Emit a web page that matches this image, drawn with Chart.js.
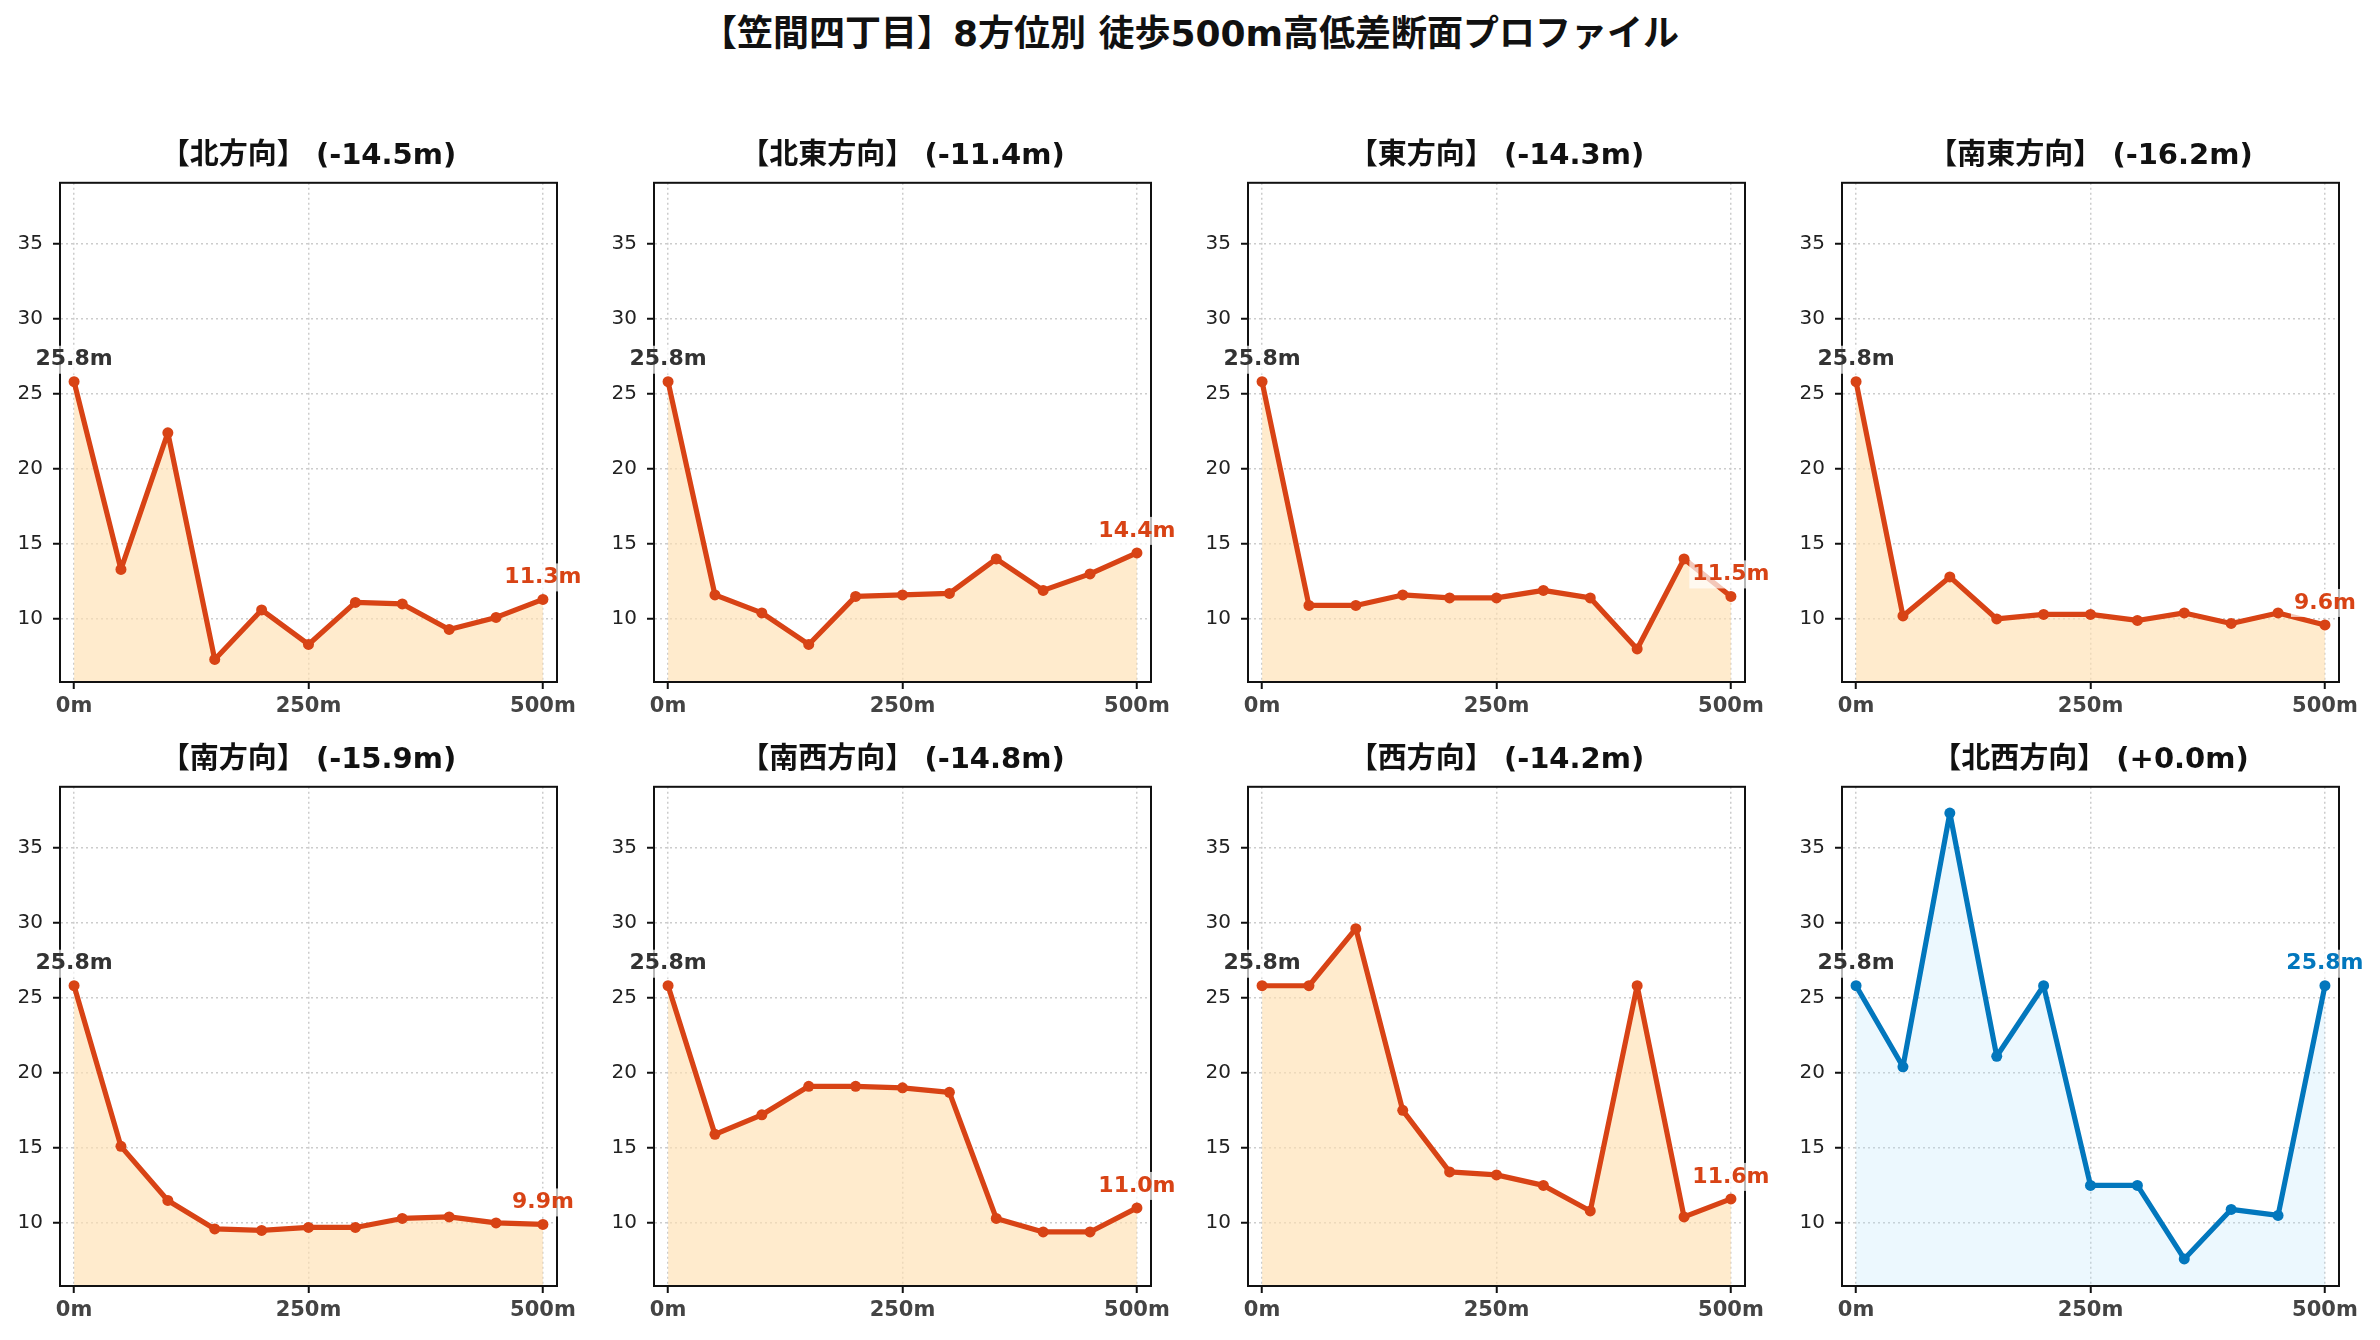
<!DOCTYPE html>
<html lang="ja">
<head>
<meta charset="utf-8">
<title>笠間四丁目 8方位別 高低差断面プロファイル</title>
<script src="https://cdn.jsdelivr.net/npm/chart.js@4.4.1/dist/chart.umd.min.js"></script>
<style>
  html, body { margin: 0; padding: 0; background: #fff; }
  body { width: 2380px; height: 1340px; position: relative; overflow: hidden;
         font-family: "DejaVu Sans", "Noto Sans CJK JP", sans-serif; }
  h1 { position: absolute; left: 0; top: 12px; width: 2380px; margin: 0; text-align: center;
       font-size: 36px; line-height: 44px; font-weight: bold; color: #111; }
  canvas { position: absolute; }
</style>
</head>
<body>
<h1>【笠間四丁目】8方位別 徒歩500m高低差断面プロファイル</h1>
<script>
// distance from the start point (m)
const distances = [0, 50, 100, 150, 200, 250, 300, 350, 400, 450, 500];
const directions = ['北', '北東', '東', '南東', '南', '南西', '西', '北西'];

// elevation (m) along each direction
const north     = [25.8, 13.3, 22.4, 7.3, 10.6, 8.3, 11.1, 11.0, 9.3, 10.1, 11.3];
const northEast = [25.8, 11.6, 10.4, 8.3, 11.5, 11.6, 11.7, 14.0, 11.9, 13.0, 14.4];
const east      = [25.8, 10.9, 10.9, 11.6, 11.4, 11.4, 11.9, 11.4, 8.0, 14.0, 11.5];
const southEast = [25.8, 10.2, 12.8, 10.0, 10.3, 10.3, 9.9, 10.4, 9.7, 10.4, 9.6];
const south     = [25.8, 15.1, 11.5, 9.6, 9.5, 9.7, 9.7, 10.3, 10.4, 10.0, 9.9];
const southWest = [25.8, 15.9, 17.2, 19.1, 19.1, 19.0, 18.7, 10.3, 9.4, 9.4, 11.0];
const west      = [25.8, 25.8, 29.6, 17.5, 13.4, 13.2, 12.5, 10.8, 25.8, 10.4, 11.6];
const northWest = [25.8, 20.4, 37.3, 21.1, 25.8, 12.5, 12.5, 7.6, 10.9, 10.5, 25.8];
const elevations = [north, northEast, east, southEast, south, southWest, west, northWest];

const yTicks = [10, 15, 20, 25, 30, 35];
const xTicks = [0, 250, 500];

const FONT = '"DejaVu Sans", "Noto Sans CJK JP", sans-serif';
Chart.defaults.font.family = FONT;

// panel geometry (plot area)
const plotLefts = [60, 654, 1248, 1842];
const plotTops = [183, 787];
const plotW = 497, plotH = 499;
const axisW = 60, titleH = 63, xAxisH = 45, padR = 32;

// frame + start / end value labels
const profilePlugin = {
  id: 'profile',
  afterDraw(chart, args, opts) {
    const { ctx, chartArea: a } = chart;
    ctx.save();
    ctx.strokeStyle = '#111';
    ctx.lineWidth = 2;
    ctx.strokeRect(a.left, a.top, a.right - a.left, a.bottom - a.top);

    const meta = chart.getDatasetMeta(0);
    const pts = chart.data.datasets[0].data;
    const last = pts.length - 1;
    [[0, '#333333'], [last, opts.endColor]].forEach(([i, color]) => {
      const p = meta.data[i];
      const text = pts[i].y.toFixed(1) + 'm';
      ctx.font = 'bold 22px ' + FONT;
      const w = ctx.measureText(text).width;
      const cy = p.y - 22;
      ctx.fillStyle = 'rgba(255,255,255,0.7)';
      ctx.fillRect(p.x - w / 2 - 3, cy - 14, w + 6, 28);
      ctx.fillStyle = color;
      ctx.textAlign = 'center';
      ctx.textBaseline = 'middle';
      ctx.fillText(text, p.x, cy);
    });
    ctx.restore();
  }
};

directions.forEach((name, k) => {
  const vals = elevations[k];
  const diff = vals[vals.length - 1] - vals[0];
  const up = diff >= 0;
  const lineColor = up ? '#0277BD' : '#D84315';
  const fillColor = up ? 'rgba(179,229,252,0.25)' : 'rgba(255,224,178,0.65)';

  const canvas = document.createElement('canvas');
  const cw = axisW + plotW + padR, ch = titleH + plotH + xAxisH;
  canvas.width = cw; canvas.height = ch;
  canvas.style.width = cw + 'px'; canvas.style.height = ch + 'px';
  canvas.style.left = (plotLefts[k % 4] - axisW) + 'px';
  canvas.style.top = (plotTops[Math.floor(k / 4)] - titleH) + 'px';
  document.body.appendChild(canvas);

  const title = '【' + name + '方向】 (' + (up ? '+' : '') + diff.toFixed(1) + 'm)';

  new Chart(canvas.getContext('2d'), {
    type: 'line',
    data: {
      datasets: [{
        data: distances.map((d, i) => ({ x: d, y: vals[i] })),
        borderColor: lineColor,
        borderWidth: 5.2,
        borderJoinStyle: 'round',
        borderCapStyle: 'round',
        backgroundColor: fillColor,
        fill: 'start',
        tension: 0,
        pointRadius: 5.5,
        pointBackgroundColor: lineColor,
        pointBorderWidth: 0
      }]
    },
    options: {
      responsive: false,
      animation: false,
      devicePixelRatio: 1,
      events: [],
      layout: { padding: { left: 0, right: padR, top: 0, bottom: 0 } },
      plugins: {
        legend: { display: false },
        tooltip: { enabled: false },
        title: {
          display: true,
          text: title,
          fullSize: false,
          color: '#111',
          font: { size: 29, weight: 'bold', family: FONT, lineHeight: 1.2 },
          padding: { top: 19, bottom: 9 }
        },
        profile: { endColor: lineColor }
      },
      scales: {
        x: {
          type: 'linear',
          min: -15,
          max: 515,
          afterBuildTicks: s => { s.ticks = xTicks.map(v => ({ value: v })); },
          afterFit: s => { s.height = xAxisH; },
          grid: { color: '#cccccc', lineWidth: 1.5, tickColor: '#111', tickLength: 7, tickWidth: 2 },
          border: { color: '#111', width: 2, dash: [2, 3] },
          ticks: {
            color: '#444', padding: 5, maxRotation: 0,
            font: { size: 21, weight: 'bold', family: FONT },
            callback: v => v + 'm'
          }
        },
        y: {
          type: 'linear',
          min: 5.8,
          max: 39.05,
          afterBuildTicks: s => { s.ticks = yTicks.map(v => ({ value: v })); },
          afterFit: s => { s.width = axisW; },
          grid: { color: '#cccccc', lineWidth: 1.5, tickColor: '#111', tickLength: 7, tickWidth: 2 },
          border: { color: '#111', width: 2, dash: [2, 3] },
          ticks: { color: '#222', padding: 10, font: { size: 20, family: FONT } }
        }
      }
    },
    plugins: [profilePlugin]
  });
});
</script>
</body>
</html>
